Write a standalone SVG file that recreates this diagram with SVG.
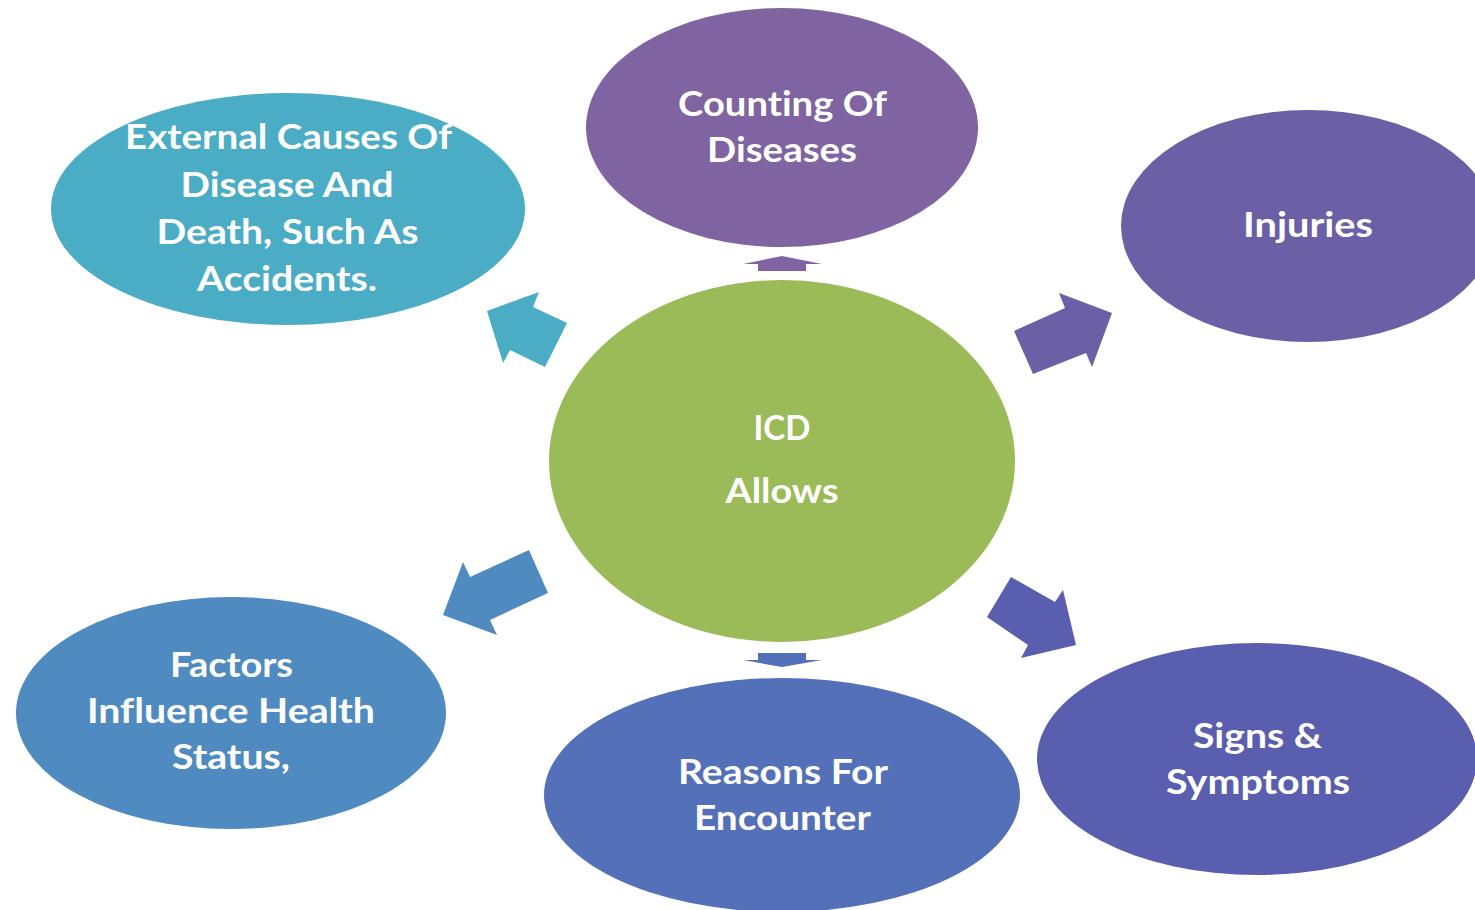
<svg xmlns="http://www.w3.org/2000/svg" width="1475" height="910" viewBox="0 0 1475 910">
<style>
.t{font-family:Lato,"Open Sans","Liberation Sans",sans-serif;font-weight:bold;font-size:35px;fill:#FFFFFF;text-anchor:middle;font-variant-ligatures:none;font-feature-settings:"liga" 0,"clig" 0,"dlig" 0}
</style>
<rect width="1475" height="910" fill="#FFFFFF"/>
<g id="node-icd">
<ellipse cx="782" cy="461" rx="233" ry="181" fill="#9BBB59"/>
<text class="t" x="782" y="440" textLength="57" lengthAdjust="spacingAndGlyphs">ICD</text>
<text class="t" x="782" y="503" textLength="113" lengthAdjust="spacingAndGlyphs">Allows</text>
</g>
<g id="node-counting">
<ellipse cx="782" cy="127.5" rx="196" ry="119.5" fill="#8064A2"/>
<text class="t" x="782.5" y="116" textLength="209" lengthAdjust="spacingAndGlyphs">Coun<tspan>t</tspan>ing Of</text>
<text class="t" x="782" y="162" textLength="150" lengthAdjust="spacingAndGlyphs">Diseases</text>
</g>
<g id="node-external">
<ellipse cx="288" cy="209" rx="237" ry="116" fill="#4BACC6"/>
<text class="t" x="288.5" y="149" textLength="327" lengthAdjust="spacingAndGlyphs">External Causes Of</text>
<text class="t" x="287" y="197" textLength="213" lengthAdjust="spacingAndGlyphs">Disease And</text>
<text class="t" x="287.5" y="244" textLength="262" lengthAdjust="spacingAndGlyphs">Death, Such As</text>
<text class="t" x="287" y="291" textLength="180" lengthAdjust="spacingAndGlyphs">Accidents.</text>
</g>
<g id="node-injuries">
<ellipse cx="1308" cy="226" rx="187" ry="116" fill="#6B5FA6"/>
<text class="t" x="1308" y="237" textLength="130" lengthAdjust="spacingAndGlyphs">Injuries</text>
</g>
<g id="node-factors">
<ellipse cx="231" cy="713" rx="215" ry="116" fill="#4F8BC0"/>
<text class="t" x="231.5" y="677" textLength="123" lengthAdjust="spacingAndGlyphs">Factors</text>
<text class="t" x="231" y="723" textLength="288" lengthAdjust="spacingAndGlyphs">Influence Health</text>
<text class="t" x="231" y="769" textLength="118" lengthAdjust="spacingAndGlyphs">Status,</text>
</g>
<g id="node-reasons">
<ellipse cx="782" cy="795" rx="238" ry="117" fill="#5470B8"/>
<text class="t" x="783" y="784" textLength="210" lengthAdjust="spacingAndGlyphs">Reasons For</text>
<text class="t" x="782.5" y="830" textLength="177" lengthAdjust="spacingAndGlyphs">Encounter</text>
</g>
<g id="node-signs">
<ellipse cx="1257" cy="759" rx="220" ry="116" fill="#5A5EAE"/>
<text class="t" x="1257.5" y="748" textLength="129" lengthAdjust="spacingAndGlyphs">Signs &amp;</text>
<text class="t" x="1258" y="794" textLength="184" lengthAdjust="spacingAndGlyphs">Symptoms</text>
</g>
<g id="connectors">
<polygon fill="#8064A2" points="782,256 822,264 806,264 806,271 758,271 758,264 743,264"/>
<polygon fill="#5470B8" points="758,653 806,653 806,660 822,660 782,667 743,660 758,660"/>
<polygon fill="#4BACC6" points="487,311 539,292 533,307 567,323 545,367 510,350 503,363"/>
<polygon fill="#6B5FA6" points="1112,313 1059,293 1065,308 1014,331 1033,374 1086,353 1092,367"/>
<polygon fill="#4F8BC0" points="443,615 463,562 470,577 529,550 548,593 490,620 497,635"/>
<polygon fill="#5A5EAE" points="1076,645 1063,590 1055,602 1011,577 987,617 1028,645 1021,658"/>
</g>
</svg>
